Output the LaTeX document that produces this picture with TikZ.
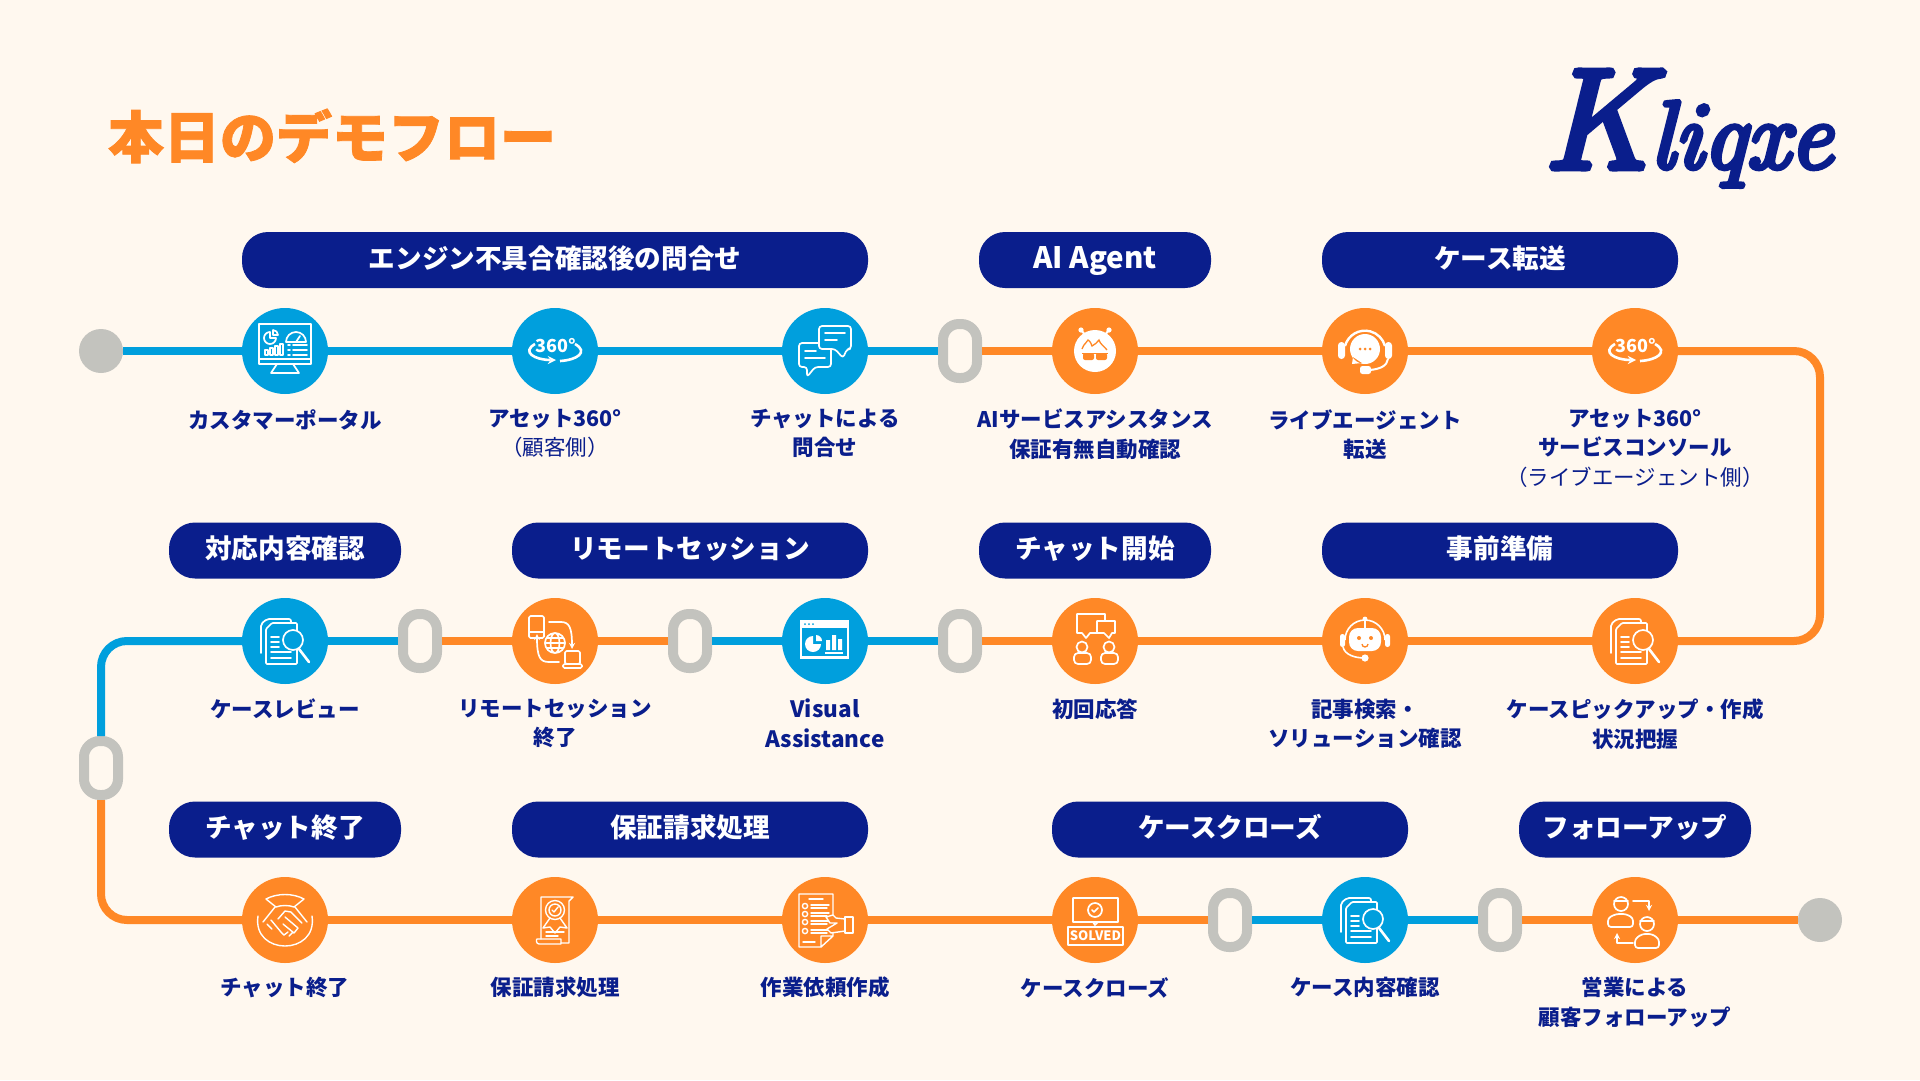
\documentclass[tikz,border=0pt]{standalone}
\usepackage{fontspec}
\usetikzlibrary{positioning}
\setmainfont{Noto Sans CJK JP}
\newfontfamily\titlefont[BoldFeatures={FakeBold=1.4}]{Noto Sans CJK JP}
\newfontfamily\logofont[ItalicFeatures={FakeBold=5}]{Latin Modern Roman}
\definecolor{pagebg}{HTML}{FFF8EF}
\definecolor{navy}{HTML}{0A1E8C}
\definecolor{skyline}{HTML}{009FDD}
\definecolor{orangeline}{HTML}{FF8826}
\definecolor{chain}{HTML}{C3C3BE}
\tikzset{
  stn/.style={circle, minimum size=86pt, inner sep=0pt, outer sep=0pt},
  stnblue/.style={stn, fill=skyline},
  stnorange/.style={stn, fill=orangeline},
  tagbox/.style={rectangle, fill=navy, rounded corners=26pt, minimum height=56pt, text=white,
    font=\bfseries\fontsize{26.6}{30}\selectfont, text height=20.5pt, text depth=4pt},
  stnlabel/.style={text=navy, align=center, inner sep=0pt, font=\bfseries\fontsize{21.5}{29.3}\selectfont},
  ring/.style={rectangle, draw=chain, line width=10pt, rounded corners=16pt, minimum width=34pt, minimum height=54pt, inner sep=0pt},
  dot/.style={circle, fill=chain, minimum size=44pt, inner sep=0pt, outer sep=0pt},
  blueline/.style={draw=skyline, line width=8pt},
  orangeroute/.style={draw=orangeline, line width=8pt},
  ic/.style={draw=white, line width=1.7pt, line join=round, line cap=round},
  pics/monitor/.style={code={
    \draw[ic] (-26,-27) rectangle (26,13);
    \draw[ic] (-26,8) -- (26,8) (-8,13) -- (-14,22) -- (14,22) -- (8,13);
    \draw[ic] (-15,-13) -- (-15,-19) arc (-90:-360:6) -- cycle;
    \draw[ic] (-12,-16) -- (-12,-21) arc (-90:0:5) -- cycle;
    \draw[ic] (1,-9) arc (180:360:10) -- cycle (11,-9) -- (15,-15);
    \draw[ic] (-20,-1) rectangle (-17,4) (-15,-3) rectangle (-12,4) (-10,-5) rectangle (-7,4) (-5,-7) rectangle (-2,4);
    \foreach \y in {-6,-1,4} \draw[ic] (3,\y) -- (5,\y) (8,\y) -- (22,\y);
  }},
  pics/threesixty/.style={code={
    \node[text=white, inner sep=0pt, font=\bfseries\fontsize{18}{18}\selectfont] (num) at (1,-5) {360°};
    \draw[white, line width=2.6pt, ->] (-20,-7) .. controls (-34,1) and (-20,9) .. (1,9);
    \draw[white, line width=2.6pt] (20,-7) .. controls (34,1) and (22,9) .. (5,10);
  }},
  pics/chatpair/.style={code={
    \draw[ic, rounded corners=3pt] (-26,-8) -- (6,-8) -- (6,16) -- (-10,16) -- (-18,26) -- (-18,16) -- (-26,16) -- cycle;
    \draw[ic] (-20,0) -- (-9,0) (-20,7) -- (0,7);
    \draw[ic, fill=#1, rounded corners=3pt] (-6,-25) -- (26,-25) -- (26,-2) -- (22,-2) -- (18,7) -- (10,-2) -- (-6,-2) -- cycle;
    \draw[ic] (0,-18) -- (20,-18) (0,-11) -- (12,-11);
  }},
  pics/botface/.style={code={
    \draw[white, line width=2pt] (-14,-21) -- (-8,-14) (14,-21) -- (8,-14);
    \fill[white] (-14,-21) circle (2.6) (14,-21) circle (2.6) (0,0) circle (21);
    \draw[orangeline, line width=1.3pt] (-13,-2) .. controls (-11,-8) and (-8,-8) .. (-7,-11) .. controls (-4,-9) and (-4,-7) .. (-3,-5) .. controls (0,-6) and (2,-9) .. (4,-11) .. controls (5,-7) and (9,-5) .. (12,-1);
    \fill[orangeline, rounded corners=2pt] (-12,2) rectangle (-1,9) (1,2) rectangle (12,9);
    \draw[orangeline, line width=1.3pt] (-13,2.5) -- (13,2.5);
  }},
  pics/headset/.style={code={
    \draw[white, line width=2.4pt] (-20,-5) arc (-165:-15:20.7);
    \fill[white, rounded corners=3.4pt] (-27,-9) rectangle (-20,8) (20,-9) rectangle (27,8);
    \fill[white] (0,-2) circle (15) (-12,6) -- (-13,13) -- (-3,12) -- cycle;
    \fill[orangeline] (-5,-2) circle (1.5) (0,-2) circle (1.5) (5,-2) circle (1.5);
    \draw[white, line width=2pt] (23,8) .. controls (22,15) and (15,18) .. (5,19);
    \fill[white, rounded corners=2.5pt] (-5,15) rectangle (6,23);
  }},
  pics/docsearch/.style={code={
    \draw[ic, rounded corners=2pt] (-24,12) -- (-24,-17) -- (-18,-22) -- (6,-22) -- (6,-18);
    \draw[ic, fill=#1, rounded corners=1pt] (-19,-12) -- (-13,-18) -- (12,-18) -- (12,23) -- (-19,23) -- cycle;
    \draw[ic] (-14,-4) -- (-6,-4) (-14,1) -- (-6,1) (-14,6) -- (-6,6) (-14,11) -- (6,11) (-14,17) -- (6,17);
    \draw[ic, fill=#1] (8,-1) circle (10);
    \draw[white, line width=2.6pt, line cap=round] (14,8) -- (24,21);
  }},
  pics/robot/.style={code={
    \draw[white, line width=1.6pt] (-20,-1) arc (180:360:20);
    \fill[white, rounded corners=2.4pt] (-25,-7) rectangle (-20,6) (20,-7) rectangle (25,6);
    \fill[white, rounded corners=9pt] (-16,-13) rectangle (16,10);
    \draw[white, line width=1.6pt] (0,-22) -- (0,-13);
    \fill[white] (0,-22) circle (2.4) (0,17) circle (3.6);
    \draw[white, line width=1.6pt] (-22,6) .. controls (-20,14) and (-10,17) .. (0,17);
    \fill[orangeline] (-6,-3) circle (2) (6,-3) circle (2);
    \draw[orangeline, line width=1.3pt] (-3,3) arc (180:0:3);
  }},
  pics/chatpeople/.style={code={
    \draw[ic] (10,-20) -- (10,-27) -- (-18,-27) -- (-18,-8) -- (-13,-8) -- (-9,-3) -- (-5,-8) -- (2,-8);
    \draw[ic] (2,-20) -- (20,-20) -- (20,-8) -- (17,-8) -- (14,-3) -- (9,-8) -- (2,-8) -- cycle;
    \draw[ic] (-13,6) circle (5.5) (14,6) circle (5.5);
    \draw[ic, rounded corners=4pt] (-21,23) -- (-21,12) -- (-4,12) -- (-4,23) -- cycle;
    \draw[ic, rounded corners=4pt] (6,23) -- (6,12) -- (23,12) -- (23,23) -- cycle;
  }},
  pics/browserpanel/.style={code={
    \fill[white] (-25,-21) rectangle (24,18);
    \fill[#1] (-23,-13) rectangle (22,15);
    \fill[#1] (-20,-17) circle (1) (-16,-17) circle (1) (-12,-17) circle (1);
    \fill[white] (-12,3) -- (-12,-5) arc (-90:-360:8) -- cycle;
    \fill[white] (-9,0) -- (-9,-6) arc (-90:0:6) -- cycle;
    \fill[white] (1,-1) rectangle (5,9) (7,-6) rectangle (11,9) (13,-2) rectangle (17,9);
    \draw[white, line width=1.6pt] (0,12) -- (18,12);
  }},
  pics/remote/.style={code={
    \draw[ic, rounded corners=1.5pt] (-26,-25) rectangle (-11,-3) (-26,-9) -- (-11,-9);
    \draw[ic, rounded corners=1.5pt] (10,10) rectangle (25,23) (8,23) -- (27,23) -- (27,27) -- (8,27) -- cycle;
    \draw[ic] (0,2) circle (10) (0,2) ellipse (4.5 and 10) (-10,2) -- (10,2) (-8,-3) -- (8,-3) (-8,7) -- (8,7);
    \draw[ic, ->] (-6,-19) -- (6,-19) .. controls (14,-19) and (17,-14) .. (17,8);
    \draw[ic, ->] (4,21) -- (-6,21) .. controls (-15,21) and (-18,16) .. (-18,-7);
  }},
  pics/handshake/.style={code={
    \draw[ic, line width=1.4pt] (-27,-4) .. controls (-30,16) and (-15,26) .. (0,26) .. controls (15,26) and (30,16) .. (27,-4);
    \draw[ic, line width=1.4pt] (-19,-21) .. controls (-8,-27) and (8,-27) .. (19,-21) -- (9,-13) .. controls (4,-15) and (-4,-15) .. (-9,-13) -- cycle;
    \draw[ic, line width=1.4pt] (-10,-13) -- (-22,2) (10,-13) -- (22,2);
    \draw[ic, line width=1.4pt] (-7,-1) -- (0,-9) -- (6,-8) -- (17,3) (0,-3) -- (13,8) -- (9,13) -- (-2,4) (-18,4) -- (-13,9) (-14,0) -- (-4,12) -- (-1,15) -- (3,12) (4,16) -- (8,12);
  }},
  pics/certscroll/.style={code={
    \draw[ic, line width=1.4pt] (-14,19) -- (-14,-23) -- (18,-23) -- (14,-19) -- (14,23) -- (6,23);
    \draw[ic, line width=1.4pt] (-18,19) -- (6,19) -- (6,24) -- (-16,24) .. controls (-19,24) and (-19,19) .. (-18,19);
    \draw[ic, line width=1.4pt] (0,-10) circle (9.5) (0,-10) circle (6) (-3,-10) -- (-1,-8) -- (3,-13);
    \draw[ic, line width=1.4pt] (-5,-2) -- (-12,8) -- (-5,7) -- (0,13) -- (5,7) -- (12,8) -- (5,-2);
    \draw[ic, line width=1.4pt] (-9,12) -- (9,12) (-9,16) -- (3,16);
  }},
  pics/orderdoc/.style={code={
    \draw[ic, line width=1.4pt] (-4,27) -- (-26,27) -- (-26,-26) -- (8,-26) -- (8,-3) (8,13) -- (8,16) -- (-4,27) -- (-4,16) -- (8,16);
    \draw[ic, line width=1.4pt] (-16,-21) -- (-2,-21) (-22,22) -- (-10,22);
    \foreach \y in {-14,-6,2,11} {
      \draw[ic, line width=1.4pt] (-20,\y) circle (2.6);
      \draw[ic, line width=1.4pt] (-14,\y-1) -- (4,\y-1) (-14,\y+2) -- (2,\y+2);
    }
    \draw[ic, line width=1.4pt, fill=#1] (1,-3) -- (8,-5) -- (11,-2) -- (20,-1) -- (20,11) -- (6,13) -- (2,9) -- (12,3) -- (5,3) -- cycle;
    \draw[ic, line width=1.4pt, fill=#1] (20,-3) rectangle (28,13);
  }},
  pics/solvedmark/.style={code={
    \draw[ic] (-22,-22) rectangle (23,2) (-2,2) -- (0,5) -- (3,2);
    \draw[ic] (0,-10) circle (7);
    \draw[ic] (-3,-10) -- (-1,-8) -- (3,-12);
    \draw[ic] (-27,7) rectangle (28,25);
    \node[text=white, inner sep=0pt, font=\bfseries\fontsize{13}{13}\selectfont] (word) at (0.5,16) {SOLVED};
  }},
  pics/followup/.style={code={
    \draw[ic] (-14,-16) circle (7) (-21,-19) -- (-7,-19);
    \draw[ic, rounded corners=3pt] (-27,7) -- (-27,-2) -- (-19,-6) -- (-9,-6) -- (-2,-2) -- (-2,7) -- cycle;
    \draw[ic] (12,4) circle (7) (5,1) -- (19,1);
    \draw[ic, rounded corners=3pt] (0,28) -- (0,19) -- (7,14) -- (17,14) -- (24,19) -- (24,28) -- cycle;
    \draw[ic, ->] (-2,-19) -- (14,-19) -- (14,-9);
    \draw[ic, ->] (-2,23) -- (-18,23) -- (-18,13);
  }},
}
\begin{document}
\begin{tikzpicture}[>=stealth, x=1pt, y=-1pt, node distance=270pt]
\path[fill=pagebg, use as bounding box] (0,0) rectangle (1920,1080);

\node[text=orangeline, inner sep=0pt, font=\titlefont\bfseries\fontsize{56}{60}\selectfont] (title) at (332,136) {本日のデモフロー};
\node[text=navy, inner sep=0pt, anchor=base, font=\logofont\itshape\fontsize{96}{100}\selectfont] (logo) at (1688,168) {{\fontsize{142}{142}\selectfont K}liqxe};

% stations, row 1
\node[stnblue] (1) at (285,351) {};
\node[stnblue, right of=1] (2) {};
\node[stnblue, right of=2] (3) {};
\node[stnorange, right of=3] (4) {};
\node[stnorange, right of=4] (5) {};
\node[stnorange, right of=5] (6) {};
% row 2 runs back
\node[stnorange] (7) at (1635,641) {};
\node[stnorange, left of=7] (8) {};
\node[stnorange, left of=8] (9) {};
\node[stnblue, left of=9] (10) {};
\node[stnorange, left of=10] (11) {};
\node[stnblue, left of=11] (12) {};
% row 3
\node[stnorange] (13) at (285,920) {};
\node[stnorange, right of=13] (14) {};
\node[stnorange, right of=14] (15) {};
\node[stnorange, right of=15] (16) {};
\node[stnblue, right of=16] (17) {};
\node[stnorange, right of=17] (18) {};

\node[dot] (d1) at (101,351) {};
\node[dot] (d2) at (1820,920) {};
\node[ring] (r1) at (960,351) {};
\node[ring] (r2) at (960,641) {};
\node[ring] (r3) at (690,641) {};
\node[ring] (r4) at (420,641) {};
\node[ring] (r5) at (101,768) {};
\node[ring] (r6) at (1230,920) {};
\node[ring] (r7) at (1500,920) {};
\coordinate (bendright) at (1820,500);

\draw[blueline] (d1) -- (1);
\draw[blueline] (1) -- (2);
\draw[blueline] (2) -- (3);
\draw[blueline] (3) -- (r1);
\draw[orangeroute] (r1) -- (4);
\draw[orangeroute] (4) -- (5);
\draw[orangeroute] (5) -- (6);
\draw[orangeroute, rounded corners=26pt] (6) -| (bendright) |- (7);
\draw[orangeroute] (7) -- (8);
\draw[orangeroute] (8) -- (9);
\draw[orangeroute] (9) -- (r2);
\draw[blueline] (r2) -- (10);
\draw[blueline] (10) -- (r3);
\draw[orangeroute] (r3) -- (11);
\draw[orangeroute] (11) -- (r4);
\draw[blueline] (r4) -- (12);
\draw[blueline, rounded corners=26pt] (12) -| (r5);
\draw[orangeroute, rounded corners=26pt] (r5) |- (13);
\draw[orangeroute] (13) -- (14);
\draw[orangeroute] (14) -- (15);
\draw[orangeroute] (15) -- (16);
\draw[orangeroute] (16) -- (r6);
\draw[blueline] (r6) -- (17);
\draw[blueline] (17) -- (r7);
\draw[orangeroute] (r7) -- (18);
\draw[orangeroute] (18) -- (d2);

\node[tagbox, minimum width=626pt] (t1) at (555,260) {エンジン不具合確認後の問合せ};
\node[tagbox, minimum width=232pt, font=\bfseries\fontsize{29.5}{30}\selectfont] (t2) at (1095,260) {AI Agent};
\node[tagbox, minimum width=356pt] (t3) at (1500,260) {ケース転送};
\node[tagbox, minimum width=232pt] (t4) at (285,550.5) {対応内容確認};
\node[tagbox, minimum width=356pt] (t5) at (690,550.5) {リモートセッション};
\node[tagbox, minimum width=232pt] (t6) at (1095,550.5) {チャット開始};
\node[tagbox, minimum width=356pt] (t7) at (1500,550.5) {事前準備};
\node[tagbox, minimum width=232pt] (t8) at (285,829.5) {チャット終了};
\node[tagbox, minimum width=356pt] (t9) at (690,829.5) {保証請求処理};
\node[tagbox, minimum width=356pt] (t10) at (1230,829.5) {ケースクローズ};
\node[tagbox, minimum width=232pt] (t11) at (1635,829.5) {フォローアップ};

\node[stnlabel, below=15pt of 1] (l1) {カスタマーポータル};
\node[stnlabel, below=15pt of 2] (l2) {アセット360°\\ \mdseries （顧客側）};
\node[stnlabel, below=15pt of 3] (l3) {チャットによる\\問合せ};
\node[stnlabel, below=15pt of 4] (l4) {AIサービスアシスタンス\\保証有無自動確認};
\node[stnlabel, below=15pt of 5] (l5) {ライブエージェント\\転送};
\node[stnlabel, below=15pt of 6] (l6) {アセット360°\\サービスコンソール\\ \mdseries （ライブエージェント側）};
\node[stnlabel, below=15pt of 7] (l7) {ケースピックアップ・作成\\状況把握};
\node[stnlabel, below=15pt of 8] (l8) {記事検索・\\ソリューション確認};
\node[stnlabel, below=15pt of 9] (l9) {初回応答};
\node[stnlabel, below=15pt of 10, font=\bfseries\fontsize{22.5}{29.3}\selectfont] (l10) {Visual\\Assistance};
\node[stnlabel, below=15pt of 11] (l11) {リモートセッション\\終了};
\node[stnlabel, below=15pt of 12] (l12) {ケースレビュー};
\node[stnlabel, below=14pt of 13] (l13) {チャット終了};
\node[stnlabel, below=14pt of 14] (l14) {保証請求処理};
\node[stnlabel, below=14pt of 15] (l15) {作業依頼作成};
\node[stnlabel, below=14pt of 16] (l16) {ケースクローズ};
\node[stnlabel, below=14pt of 17] (l17) {ケース内容確認};
\node[stnlabel, below=14pt of 18] (l18) {営業による\\顧客フォローアップ};

\pic at (1) {monitor};
\pic (i2) at (2) {threesixty};
\pic at (3) {chatpair=skyline};
\pic at (4) {botface};
\pic at (5) {headset};
\pic (i6) at (6) {threesixty};
\pic at (7) {docsearch=orangeline};
\pic at (8) {robot};
\pic at (9) {chatpeople};
\pic at (10) {browserpanel=skyline};
\pic at (11) {remote};
\pic at (12) {docsearch=skyline};
\pic at (13) {handshake};
\pic at (14) {certscroll};
\pic at (15) {orderdoc=orangeline};
\pic (i16) at (16) {solvedmark};
\pic at (17) {docsearch=skyline};
\pic at (18) {followup};
\end{tikzpicture}
\end{document}
